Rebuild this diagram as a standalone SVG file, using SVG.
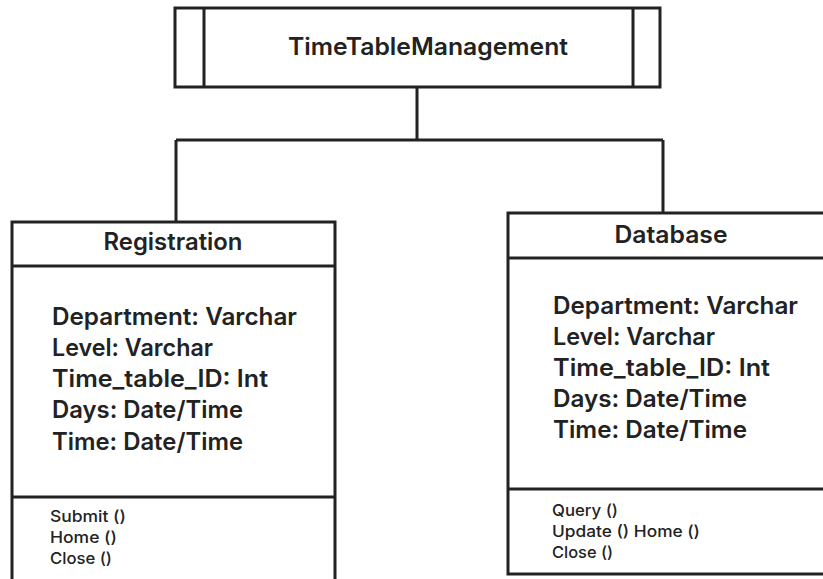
<svg xmlns="http://www.w3.org/2000/svg" width="823" height="579" viewBox="0 0 823 579">
<style>
.box{fill:#fff;stroke:#222;stroke-width:3}
.ln{fill:none;stroke:#222;stroke-width:3}
.h{font-family:Inter,"Liberation Sans",sans-serif;font-weight:600;font-size:24px;fill:#222}
.a{font-family:Inter,"Liberation Sans",sans-serif;font-weight:600;font-size:24px;fill:#222}
.m{font-family:Inter,"Liberation Sans",sans-serif;font-weight:500;font-size:16px;fill:#222}
</style>
<rect x="0" y="0" width="823" height="579" fill="#fff"/>
<g id="connectors">
<path class="ln" d="M417 87 V140 M176 140 H663 M176 140 V222 M663 140 V213"/>
</g>
<g id="timetable">
<rect class="box" x="175" y="8" width="485" height="79"/>
<path class="ln" d="M204 8 V87 M633 8 V87"/>
<text class="h" x="428" y="55" text-anchor="middle" textLength="280" lengthAdjust="spacingAndGlyphs">TimeTableManagement</text>
</g>
<g id="registration">
<path class="box" d="M12 581 V222 H335 V581"/>
<path class="ln" d="M12 266 H335 M12 497 H335"/>
<text class="h" x="173" y="250" text-anchor="middle" textLength="139" lengthAdjust="spacingAndGlyphs">Registration</text>
<text class="a" x="52" y="325" textLength="245" lengthAdjust="spacingAndGlyphs">Department: Varchar</text>
<text class="a" x="52" y="356" textLength="161" lengthAdjust="spacingAndGlyphs">Level: Varchar</text>
<text class="a" x="52" y="387" textLength="216" lengthAdjust="spacingAndGlyphs">Time_table_ID: Int</text>
<text class="a" x="52" y="418" textLength="191" lengthAdjust="spacingAndGlyphs">Days: Date/Time</text>
<text class="a" x="52" y="450" textLength="191" lengthAdjust="spacingAndGlyphs">Time: Date/Time</text>
<text class="m" x="50" y="522" textLength="76" lengthAdjust="spacingAndGlyphs">Submit ()</text>
<text class="m" x="50" y="543" textLength="67" lengthAdjust="spacingAndGlyphs">Home ()</text>
<text class="m" x="50" y="564" textLength="62" lengthAdjust="spacingAndGlyphs">Close ()</text>
</g>
<g id="database">
<path class="box" d="M826 213 H508 V574 H826"/>
<path class="ln" d="M508 258 H826 M508 489 H826"/>
<text class="h" x="671" y="243" text-anchor="middle" textLength="113" lengthAdjust="spacingAndGlyphs">Database</text>
<text class="a" x="553" y="314" textLength="245" lengthAdjust="spacingAndGlyphs">Department: Varchar</text>
<text class="a" x="553" y="345" textLength="162" lengthAdjust="spacingAndGlyphs">Level: Varchar</text>
<text class="a" x="553" y="376" textLength="217" lengthAdjust="spacingAndGlyphs">Time_table_ID: Int</text>
<text class="a" x="553" y="407" textLength="194" lengthAdjust="spacingAndGlyphs">Days: Date/Time</text>
<text class="a" x="553" y="438" textLength="194" lengthAdjust="spacingAndGlyphs">Time: Date/Time</text>
<text class="m" x="552" y="516" textLength="66" lengthAdjust="spacingAndGlyphs">Query ()</text>
<text class="m" x="552" y="537" textLength="148" lengthAdjust="spacingAndGlyphs">Update () Home ()</text>
<text class="m" x="552" y="558" textLength="61" lengthAdjust="spacingAndGlyphs">Close ()</text>
</g>
</svg>
